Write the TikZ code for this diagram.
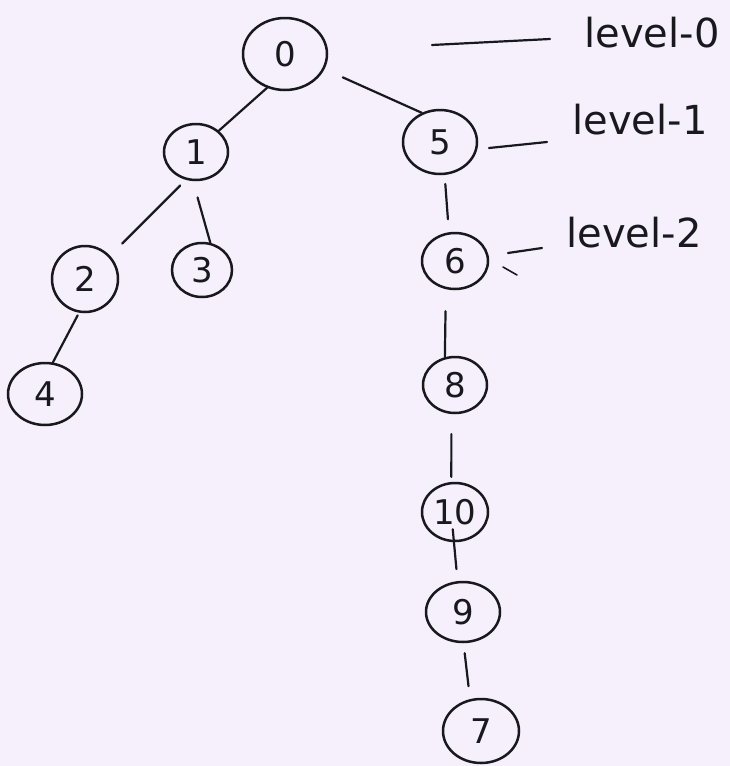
\documentclass[tikz,border=0pt]{standalone}
\usepackage{fontspec}
\setmainfont{DejaVu Sans}
\usetikzlibrary{shapes.geometric}
\definecolor{paper}{RGB}{245,240,251}
\definecolor{ink}{RGB}{24,24,30}
\begin{document}
\begin{tikzpicture}[x=1pt,y=-1pt,
  vertex/.style={ellipse, draw=ink, line width=2.5pt, inner sep=0pt, text=ink,
    font=\fontsize{34}{36}\selectfont},
  link/.style={draw=ink, line width=2.2pt, line cap=round},
  levelname/.style={text=ink, inner sep=0pt, font=\fontsize{40}{42}\selectfont}]
% sheet
\fill[paper] (0,0) rectangle (730,766);
\useasboundingbox (0,0) rectangle (730,766);

% tree vertices
\node[vertex, minimum width=84pt, minimum height=72pt] (n0)  at (285,54)  {0};
\node[vertex, minimum width=64pt, minimum height=56pt] (n1)  at (196,152) {1};
\node[vertex, minimum width=74pt, minimum height=64pt] (n5)  at (440,142) {5};
\node[vertex, minimum width=66pt, minimum height=66pt] (n2)  at (85,279)  {2};
\node[vertex, minimum width=60pt, minimum height=54pt] (n3)  at (202,270) {3};
\node[vertex, minimum width=66pt, minimum height=56pt] (n6)  at (455,261) {6};
\node[vertex, minimum width=74pt, minimum height=62pt] (n4)  at (45,394)  {4};
\node[vertex, minimum width=64pt, minimum height=56pt] (n8)  at (455,385) {8};
\node[vertex, minimum width=66pt, minimum height=58pt] (n10) at (455,512) {10};
\node[vertex, minimum width=74pt, minimum height=60pt] (n9)  at (463,612) {9};
\node[vertex, minimum width=76pt, minimum height=64pt] (n7)  at (481,731) {7};

% tree edges
\draw[link] (n0.242) -- (n1.43);
\draw[link, shorten <=20pt] (n0.339) -- (n5.122);
\draw[link, shorten <=8pt, shorten >=17pt] (n1.250) -- (n2.43);
\draw[link, shorten <=17pt] (n1.264) -- (n3.73);
\draw[link, shorten <=3pt] (n2.260) -- (n4.76);
\draw[link, shorten <=9pt, shorten >=13pt] (n5.278) -- (n6.102);
\draw[link, shorten <=22pt] (n6.252) -- (n8.110);
\draw[link, shorten <=20pt, shorten >=5pt] (n8.263) -- (n10.97);
\draw[link, shorten <=-13pt, shorten >=12pt] (n10.268) -- (n9.100);
\draw[link, shorten <=10pt, shorten >=13pt] (n9.271) -- (n7.109);

% level annotations
\node[levelname] (lv0) at (652,33)  {level-0};
\node[levelname] (lv1) at (640,120) {level-1};
\node[levelname] (lv2) at (634,233) {level-2};
\coordinate (a0) at (432,45);  \coordinate (b0) at (550,39);
\coordinate (a1) at (489,148); \coordinate (b1) at (547,142);
\coordinate (a2) at (508,253); \coordinate (b2) at (542,248);
\coordinate (t1) at (503,267); \coordinate (t2) at (517,275);
\draw[link] (a0) -- (b0);
\draw[link] (a1) -- (b1);
\draw[link] (a2) -- (b2);
\draw[link, line width=1.6pt] (t1) -- (t2);
\end{tikzpicture}
\end{document}
